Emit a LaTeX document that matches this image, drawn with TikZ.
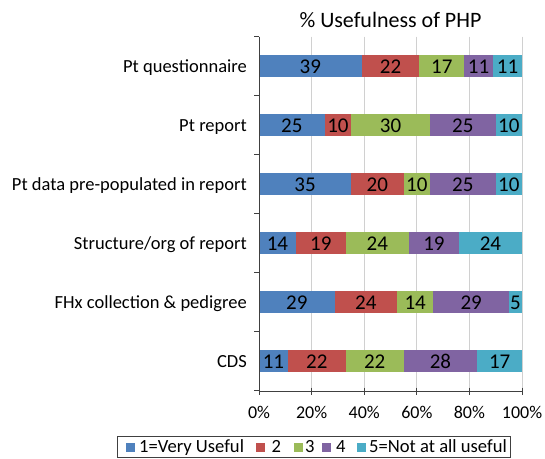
\documentclass[tikz,border=0pt]{standalone}
\usepackage{fontspec}
\setmainfont{Carlito}
\definecolor{c1}{HTML}{4F81BD}
\definecolor{c2}{HTML}{C0504D}
\definecolor{c3}{HTML}{9BBB59}
\definecolor{c4}{HTML}{8064A2}
\definecolor{c5}{HTML}{4BACC6}
\definecolor{gridc}{HTML}{D0D0D0}
\definecolor{axisc}{HTML}{404040}
\tikzset{
  catlab/.style={anchor=base east,inner sep=0pt,font=\fontsize{18.5}{20}\selectfont},
  num/.style={anchor=base,inner sep=0pt,font=\fontsize{21}{24}\selectfont},
  ticklab/.style={anchor=base,inner sep=0pt,font=\fontsize{18}{20}\selectfont},
  leglab/.style={anchor=base west,inner sep=0pt,font=\fontsize{18.6}{20}\selectfont},
  gridline/.style={draw=gridc,line width=1pt},
  axisline/.style={draw=axisc,line width=0.9pt},
  legbox/.style={draw=axisc,line width=0.8pt},
}
\begin{document}
\begin{tikzpicture}[x=1pt,y=-1pt]
\useasboundingbox (0,0) rectangle (545,458);
\fill[white] (0,0) rectangle (545,458);
% title
\node[anchor=base,inner sep=0pt,font=\fontsize{22}{24}\selectfont] (title) at (390.5,27) {\% Usefulness of PHP};
% gridlines
\foreach \p in {1,...,5} {
  \coordinate (gt\p) at ({259+52.6*\p},36.7);
  \coordinate (gb\p) at ({259+52.6*\p},391);
  \draw[gridline] (gt\p) -- (gb\p);
}
% bars
\foreach [count=\i from 0] \lab/\tot/\vals in {
  {Pt questionnaire}/100/{39,22,17,11,11},
  {Pt report}/100/{25,10,30,25,10},
  {Pt data pre-populated in report}/100/{35,20,10,25,10},
  {Structure/org of report}/100/{14,19,24,19,24},
  {FHx collection \& pedigree}/101/{29,24,14,29,5},
  {CDS}/100/{11,22,22,28,17}} {
  \pgfmathsetmacro\yc{66.2+59*\i}
  \node[catlab] (lab\i) at (247,\yc+5.8) {\lab};
  \pgfmathsetmacro\sc{263/\tot}
  \xdef\cum{0}
  \foreach [count=\j] \v in \vals {
    \pgfmathsetmacro\xa{259+\sc*\cum}
    \pgfmathsetmacro\xb{259+\sc*(\cum+\v)}
    \fill[c\j] (\xa,\yc-11) rectangle (\xb,\yc+11);
    \node[num] (v\i-\j) at ({(\xa+\xb)/2},\yc+7.5) {\v};
    \pgfmathsetmacro\newcum{\cum+\v}
    \xdef\cum{\newcum}
  }
}
% axes
\coordinate (ytop) at (259,36.7);
\coordinate (orig) at (259,391);
\coordinate (xend) at (522,391);
\draw[axisline] (ytop) -- (orig) -- (xend);
\foreach \k in {0,...,6} {
  \coordinate (ytA\k) at (254,{36.7+59*\k});
  \coordinate (ytB\k) at (259,{36.7+59*\k});
  \draw[axisline] (ytA\k) -- (ytB\k);
}
\foreach \p/\t in {0/0,1/20,2/40,3/60,4/80,5/100} {
  \coordinate (xtA\p) at ({259+52.6*\p},387.5);
  \coordinate (xtB\p) at ({259+52.6*\p},395);
  \draw[axisline] (xtA\p) -- (xtB\p);
  \node[ticklab] (tl\p) at ({259+52.6*\p},418) {\t\%};
}
% legend
\draw[legbox] (117,436) rectangle (510,457);
\foreach \k/\x/\tx/\t in {1/125.5/139/{1=Very Useful},2/256/271.5/2,3/293.5/305/3,4/322/336/4,5/356.5/369/{5=Not at all useful}} {
  \fill[c\k] (\x,443) rectangle ++(9,9);
  \node[leglab] (leg\k) at (\tx,452.5) {\t};
}
\end{tikzpicture}
\end{document}
